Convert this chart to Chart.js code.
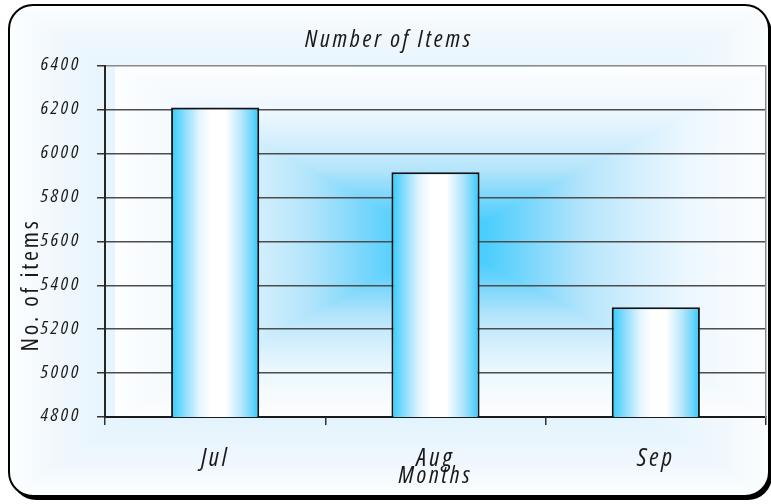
<!DOCTYPE html>
<html>
<head>
<meta charset="utf-8">
<title>Number of Items</title>
<script src="https://cdn.jsdelivr.net/npm/chart.js@4.4.1/dist/chart.umd.min.js"></script>
<style>
    html, body { margin: 0; padding: 0; background: #fff; }
    #wrap { width: 771px; height: 504px; position: relative; }
</style>
</head>
<body>
<div id="wrap"><canvas id="itemsChart"></canvas></div>
<script>
const months = ["Jul", "Aug", "Sep"];
const itemCounts = [6210, 5915, 5300];
const yMin = 4800;
const yMax = 6400;
const yStep = 200;

const chartTitle = "Number of Items";
const xTitle = "Months";
const yTitle = "No. of items";

const ink = "#1a1a1a";

//Buscar la fuente estrecha más parecida que esté instalada
function pickFont() {
    const c = document.createElement("canvas").getContext("2d");
    const options = [
        ["'Liberation Sans Narrow'", "normal"],
        ["'DejaVu Sans Condensed'", "normal"],
        ["'Noto Sans'", "extra-condensed"],
        ["'Open Sans'", "condensed"],
        ["'Noto Sans'", "condensed"],
        ["'DejaVu Sans'", "condensed"],
        ["'Liberation Sans'", "normal"]
    ];
    let best = null;
    options.forEach(([family, stretch]) => {
        c.font = `italic ${stretch} 24px ${family}, monospace`;
        const w = c.measureText(chartTitle).width;
        if (!best || w < best.w) best = { family: family, stretch: stretch, w: w };
    });
    return best;
}

const face = pickFont();
const family = face.family + ", sans-serif";
//El título original mide unos 168px de ancho
const spacing = Math.max(0, Math.min(4, (168 - face.w) / chartTitle.length)).toFixed(2) + "px";

//Degradado rectangular "desde el centro"
function centerFill(ctx, cx, cy, hw, hh, stops) {
    const grad = (x1, y1) => {
        const g = ctx.createLinearGradient(cx, cy, x1, y1);
        stops.forEach(s => g.addColorStop(s[0], s[1]));
        return g;
    };

    //mitades izquierda y derecha
    ctx.fillStyle = grad(cx - hw, cy);
    ctx.fillRect(cx - hw, cy - hh, hw, hh * 2);
    ctx.fillStyle = grad(cx + hw, cy);
    ctx.fillRect(cx, cy - hh, hw, hh * 2);

    //triángulos de arriba y abajo
    [-1, 1].forEach(d => {
        ctx.fillStyle = grad(cx, cy + d * hh);
        ctx.beginPath();
        ctx.moveTo(cx, cy);
        ctx.lineTo(cx - hw, cy + d * hh);
        ctx.lineTo(cx + hw, cy + d * hh);
        ctx.closePath();
        ctx.fill();
    });
}

//Marco redondeado con sombra y fondos
const panelPlugin = {
    id: "panel",
    beforeDraw(chart) {
        const ctx = chart.ctx;
        const x0 = 9, y0 = 5, w = 760, h = 491, r = 24;

        ctx.save();
        ctx.beginPath();
        ctx.roundRect(x0 + 3, y0 + 4, w, h, r);
        ctx.fillStyle = "#000";
        ctx.fill();

        ctx.beginPath();
        ctx.roundRect(x0, y0, w, h, r);
        ctx.fillStyle = "#fff";
        ctx.fill();
        ctx.clip();
        centerFill(ctx, x0 + w / 2, y0 + h / 2, w / 2, h / 2,
            [[0, "#46cdfd"], [0.4, "#a8e2fb"], [0.7, "#e4f4fd"], [0.88, "#f1f8fd"], [1, "#fcfeff"]]);
        ctx.restore();

        //Fondo del área de trazado
        const a = chart.chartArea;
        ctx.save();
        ctx.beginPath();
        ctx.rect(a.left, a.top, a.width, a.height);
        ctx.clip();
        centerFill(ctx, (a.left + a.right) / 2 + 10, (a.top + a.bottom) / 2 + 1, a.width / 2, a.height / 2,
            [[0, "#44cdfd"], [0.12, "#4acefd"], [0.27, "#80d8fc"], [0.42, "#b5e5fb"], [0.58, "#d5effd"],
             [0.73, "#ebf7fe"], [0.85, "#f5fafe"], [1, "#fdfeff"]]);
        ctx.restore();

        ctx.save();
        ctx.beginPath();
        ctx.roundRect(x0, y0, w, h, r);
        ctx.lineWidth = 2;
        ctx.strokeStyle = "#000";
        ctx.stroke();
        ctx.restore();

        //Espaciado de letras para todo el texto del gráfico
        ctx.letterSpacing = spacing;
    }
};

//Título del eje Y (desplazado hacia abajo como en el original)
const yTitlePlugin = {
    id: "yTitle",
    afterDraw(chart) {
        const ctx = chart.ctx;
        ctx.save();
        ctx.translate(31, 285);
        ctx.rotate(-Math.PI / 2);
        ctx.font = `normal ${face.stretch} 24px ${family}`;
        ctx.letterSpacing = spacing;
        ctx.fillStyle = ink;
        ctx.textAlign = "center";
        ctx.textBaseline = "middle";
        ctx.fillText(yTitle, 0, 0);
        ctx.restore();
    }
};

//Degradado horizontal de cada barra
function barFill(c) {
    const chart = c.chart;
    const area = chart.chartArea;
    if (!area) return "#46cdfd";
    const x = chart.scales.x.getPixelForValue(c.dataIndex);
    const w = (area.width / months.length) * 0.4;
    const g = chart.ctx.createLinearGradient(x - w / 2, 0, x + w / 2, 0);
    g.addColorStop(0, "#2ecdfd");
    g.addColorStop(0.15, "#8bdcfc");
    g.addColorStop(0.32, "#e3f5fe");
    g.addColorStop(0.45, "#ffffff");
    g.addColorStop(0.62, "#ffffff");
    g.addColorStop(0.8, "#b5e6fc");
    g.addColorStop(0.92, "#6dd5fc");
    g.addColorStop(1, "#2acbfd");
    return g;
}

const italic = (size) => ({ family: family, size: size, style: "italic", weight: face.stretch, lineHeight: 1.2 });

new Chart(document.getElementById("itemsChart"), {
    type: "bar",
    data: {
        labels: months,
        datasets: [{
            label: yTitle,
            data: itemCounts,
            backgroundColor: barFill,
            borderColor: "#111",
            borderWidth: 2,
            borderSkipped: false,
            barPercentage: 0.4,
            categoryPercentage: 1.0
        }]
    },
    options: {
        responsive: true,
        maintainAspectRatio: false,
        animation: false,
        layout: { padding: { left: 12, right: 5, top: 0, bottom: 0 } },
        plugins: {
            legend: { display: false },
            tooltip: { enabled: false },
            title: {
                display: true,
                text: chartTitle,
                color: ink,
                font: italic(24),
                padding: { top: 26, bottom: 11 }
            }
        },
        scales: {
            x: {
                offset: true,
                grid: {
                    display: true,
                    offset: true,
                    drawOnChartArea: false,
                    drawTicks: true,
                    tickLength: 8,
                    tickColor: "#333",
                    lineWidth: 1.5
                },
                border: { display: true, color: ink, width: 2 },
                ticks: { color: ink, font: italic(25), padding: 19, maxRotation: 0 },
                title: {
                    display: true,
                    text: xTitle,
                    color: ink,
                    font: italic(24),
                    padding: { top: 0, bottom: 13 }
                },
                afterFit(scale) { scale.height = 87; }
            },
            y: {
                min: yMin,
                max: yMax,
                ticks: {
                    stepSize: yStep,
                    color: ink,
                    font: italic(19),
                    padding: 16,
                    labelOffset: -1,
                    callback: v => String(v)
                },
                grid: {
                    color: c => (c.tick && c.tick.value === yMax ? "#8a8a8a" : "#4d4d4d"),
                    lineWidth: 1.5,
                    tickLength: 8,
                    tickColor: "#333"
                },
                border: { display: true, color: "#262626", width: 2 },
                afterFit(scale) { scale.width = 93; }
            },
            y2: {
                position: "right",
                display: true,
                min: yMin,
                max: yMax,
                ticks: { display: false },
                grid: { display: false, drawTicks: false },
                border: { display: true, color: "#8a8a8a", width: 1.5 },
                afterFit(scale) { scale.width = 0; }
            }
        }
    },
    plugins: [panelPlugin, yTitlePlugin]
});
</script>
</body>
</html>
